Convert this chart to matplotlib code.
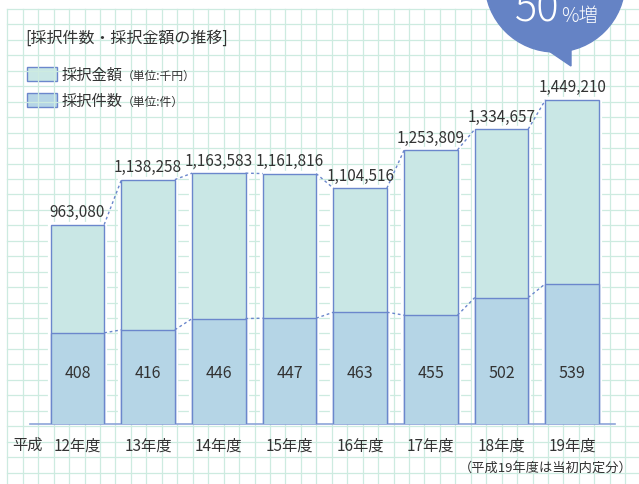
import matplotlib.pyplot as plt
from matplotlib.patches import Circle, Polygon, Rectangle
import numpy as np

plt.rcParams['font.family'] = ['Noto Sans CJK JP', 'DejaVu Sans']

# データ
years = ['12年度', '13年度', '14年度', '15年度', '16年度', '17年度', '18年度', '19年度']
amount = [963080, 1138258, 1163583, 1161816, 1104516, 1253809, 1334657, 1449210]  # 千円
count = [408, 416, 446, 447, 463, 455, 502, 539]  # 件

W, H = 639, 485
txt = '#333333'
edge = '#6b87cc'
c_amount = '#c9e7e5'
c_count = '#b5d5e6'

fig = plt.figure(figsize=(W / 100, H / 100), dpi=100)

# 方眼の背景 (ピクセル座標)
bg = fig.add_axes([0, 0, 1, 1])
bg.set_xlim(0, W)
bg.set_ylim(H, 0)
bg.axis('off')
grid_c = '#cdebe0'
for gx in np.arange(7.3, W, 15.45):
    bg.plot([gx, gx], [10, H], color=grid_c, lw=0.9)
for gy in np.arange(10, H, 15.45):
    bg.plot([7.3, W], [gy, gy], color=grid_c, lw=0.9)

# タイトルと凡例
bg.text(25, 38, '[採択件数・採択金額の推移]', fontsize=11.5, color=txt, va='center')
bg.add_patch(Rectangle((27, 68), 30, 14, facecolor=c_amount, edgecolor=edge, lw=1))
bg.add_patch(Rectangle((27, 94), 30, 14, facecolor=c_count, edgecolor=edge, lw=1))
bg.text(62, 75, '採択金額', fontsize=11, color=txt, va='center')
bg.text(122, 76, '（単位:千円）', fontsize=8.5, color=txt, va='center')
bg.text(62, 101, '採択件数', fontsize=11, color=txt, va='center')
bg.text(122, 102, '（単位:件）', fontsize=8.5, color=txt, va='center')

# 吹き出し
bub = '#6583c5'
bg.add_patch(Circle((555, -17), 70, color=bub, zorder=5))
bg.add_patch(Polygon([(546, 50), (571, 46), (571, 67)], color=bub, zorder=5))
bg.text(560, 22, '50', fontsize=30, color='white', ha='right', va='baseline',
        fontweight='light', zorder=6)
bg.text(561, 22, '%増', fontsize=14, color='white', ha='left', va='baseline',
        fontweight='light', zorder=6)

# 注記
bg.text(12, 445, '平成', fontsize=11, color=txt, va='center')
bg.text(633, 468, '（平成19年度は当初内定分）', fontsize=9.5, color=txt,
        ha='right', va='center')

# 棒グラフ
ax = fig.add_axes([30 / W, (H - 425) / H, 585 / W, 415 / H])
ax.set_facecolor('none')
x = np.arange(len(years))
bw = 0.755
ax.bar(x, amount, bw, color='white', edgecolor='white', lw=4.5, zorder=2)
ax.bar(x, amount, bw, color=c_amount, edgecolor=edge, lw=1, zorder=3)
ax.set_ylim(186700, 1802700)
ax.set_xlim(-0.672, 7.606)
for i in range(len(x) - 1):
    ax.plot([x[i] + bw / 2, x[i + 1] - bw / 2], [amount[i], amount[i + 1]],
            ls=(0, (2, 2)), color=edge, lw=1, zorder=3)
for xi, v in zip(x, amount):
    ax.annotate(f'{v:,}', (xi, v), xytext=(0, 6), textcoords='offset points',
                ha='center', va='baseline', fontsize=11, color=txt)

ax2 = ax.twinx()
ax2.set_ylim(165.3, 1270.2)
ax2.bar(x, count, bw, color=c_count, edgecolor=edge, lw=1, zorder=3)
for i in range(len(x) - 1):
    ax2.plot([x[i] + bw / 2, x[i + 1] - bw / 2], [count[i], count[i + 1]],
             ls=(0, (2, 2)), color=edge, lw=1, zorder=3)
for xi, c in zip(x, count):
    ax2.text(xi, 0.123, str(c), transform=ax2.get_xaxis_transform(),
             ha='center', va='center', fontsize=11.5, color=txt)

ax.set_xticks(x, years)
ax.tick_params(axis='x', length=0, pad=9, labelsize=11, colors=txt)
ax.set_yticks([])
ax2.set_yticks([])
for s in ax.spines.values():
    s.set_visible(False)
for name, s in ax2.spines.items():
    s.set_visible(name == 'bottom')
ax2.spines['bottom'].set_color('#8ea4d9')
ax2.spines['bottom'].set_linewidth(1.2)

fig.savefig('out.png', dpi=100)
